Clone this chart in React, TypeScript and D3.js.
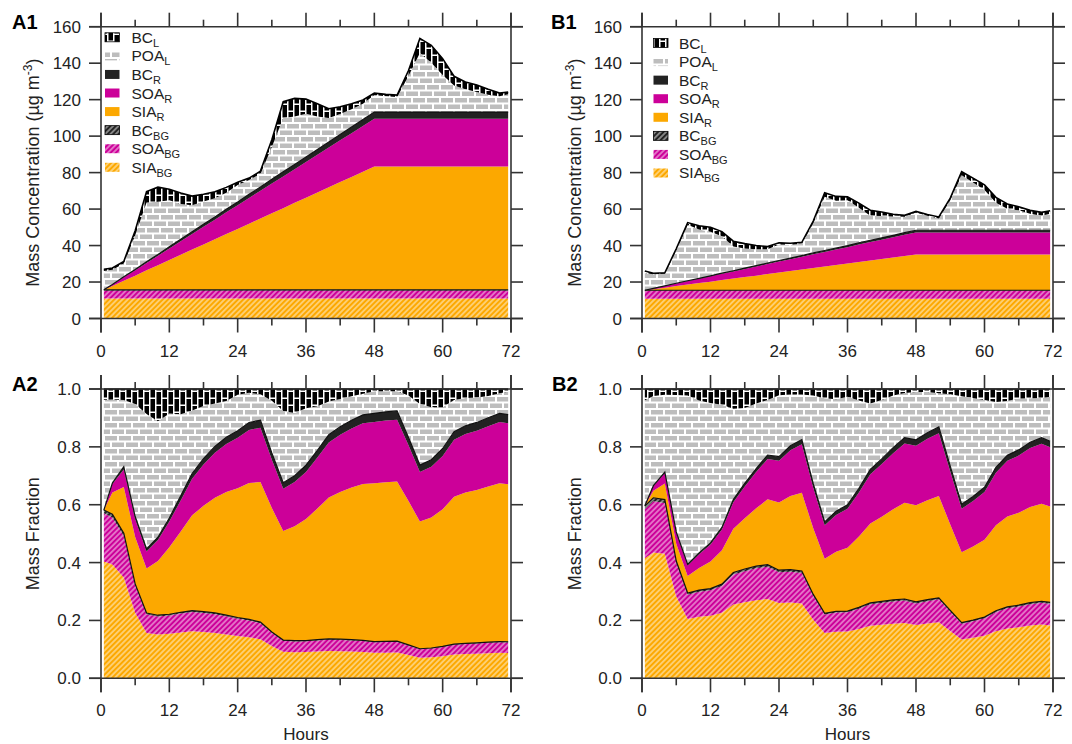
import React from "react";
import * as d3 from "d3";

// ---------------- DATA ----------------
const hours = [0.5, 2, 4, 6, 8, 10, 12, 14, 16, 18, 20, 22, 24, 26, 28, 30, 32, 34, 36, 38, 40, 42, 44, 46, 48, 50, 52, 54, 56, 58, 60, 62, 64, 66, 68, 70, 71.5];

// Case A (µg m-3)
const a1SiaBg = 10.9;
const a1SoaBg = 4.5;
const a1BcBg = 0.3;
const a1SiaR = [0, 2.1, 5.0, 7.8, 10.7, 13.5, 16.4, 19.2, 22.1, 24.9, 27.7, 30.6, 33.4, 36.3, 39.1, 42.0, 44.8, 47.7, 50.5, 53.4, 56.2, 59.1, 61.9, 64.8, 67.6, 67.6, 67.6, 67.6, 67.6, 67.6, 67.6, 67.6, 67.6, 67.6, 67.6, 67.6, 67.6];
const a1SoaR = [0, 0.8, 1.9, 3.0, 4.1, 5.2, 6.3, 7.4, 8.5, 9.7, 10.8, 11.9, 13.0, 14.1, 15.2, 16.3, 17.4, 18.5, 19.6, 20.7, 21.8, 22.9, 24.0, 25.1, 26.2, 26.2, 26.2, 26.2, 26.2, 26.2, 26.2, 26.2, 26.2, 26.2, 26.2, 26.2, 26.2];
const a1BcR = [0, 0.1, 0.3, 0.4, 0.6, 0.7, 0.9, 1.1, 1.2, 1.4, 1.5, 1.7, 1.8, 2.0, 2.1, 2.3, 2.5, 2.6, 2.8, 2.9, 3.1, 3.2, 3.4, 3.5, 3.7, 3.7, 3.7, 3.7, 3.7, 3.7, 3.7, 3.7, 3.7, 3.7, 3.7, 3.7, 3.7];
const a1PoaL = [10.3, 8.0, 7.2, 18.7, 32.5, 28.9, 25.6, 19.4, 14.6, 12.4, 10.3, 9.0, 9.3, 7.9, 7.2, 17.7, 29.5, 26.2, 23.7, 18.0, 13.2, 11.2, 9.7, 8.7, 9.4, 8.7, 8.3, 19.8, 32.4, 27.1, 20.3, 14.6, 12.5, 11.0, 9.5, 8.6, 9.8];
const a1BcL = [1.0, 1.0, 1.2, 2.5, 6.0, 8.0, 6.0, 6.0, 5.0, 4.0, 3.5, 3.0, 1.5, 1.0, 1.5, 4.0, 9.0, 10.0, 8.0, 7.0, 5.0, 4.0, 3.0, 2.0, 1.0, 1.0, 1.0, 3.0, 8.0, 9.5, 9.0, 5.0, 4.0, 3.8, 3.0, 1.8, 1.2];

// Case B (µg m-3)
const b1SiaBg = 10.8;
const b1SoaBg = 4.4;
const b1BcBg = 0.3;
const b1SiaR = [0, 0.6, 1.4, 2.3, 3.1, 3.9, 4.7, 5.6, 6.4, 7.2, 8.0, 8.9, 9.7, 10.5, 11.3, 12.2, 13.0, 13.8, 14.6, 15.5, 16.3, 17.1, 17.9, 18.8, 19.6, 19.6, 19.6, 19.6, 19.6, 19.6, 19.6, 19.6, 19.6, 19.6, 19.6, 19.6, 19.6];
const b1SoaR = [0, 0.4, 0.9, 1.4, 1.9, 2.4, 2.9, 3.4, 3.9, 4.5, 5.0, 5.5, 6.0, 6.5, 7.0, 7.5, 8.0, 8.5, 9.0, 9.6, 10.1, 10.6, 11.1, 11.6, 12.1, 12.1, 12.1, 12.1, 12.1, 12.1, 12.1, 12.1, 12.1, 12.1, 12.1, 12.1, 12.1];
const b1BcR = [0, 0.04, 0.09, 0.14, 0.19, 0.24, 0.29, 0.34, 0.39, 0.44, 0.49, 0.54, 0.59, 0.64, 0.69, 0.75, 0.8, 0.85, 0.9, 0.95, 1.0, 1.05, 1.1, 1.15, 1.2, 1.2, 1.2, 1.2, 1.2, 1.2, 1.2, 1.2, 1.2, 1.2, 1.2, 1.2, 1.2];
const b1PoaL = [9.5, 7.7, 6.7, 18.1, 30.7, 26.8, 24.2, 20.2, 13.3, 10.7, 9.0, 7.5, 8.8, 7.3, 6.5, 16.3, 29.5, 25.9, 24.9, 19.2, 13.5, 11.9, 10.3, 8.7, 9.7, 8.0, 6.5, 16.4, 30.1, 26.2, 22.1, 15.0, 11.8, 10.9, 9.0, 8.0, 9.1];
const b1BcL = [1.0, 0.6, 0.5, 0.8, 1.2, 2.0, 2.4, 2.6, 2.9, 2.7, 2.0, 1.5, 0.9, 0.8, 0.8, 1.2, 2.2, 2.4, 1.8, 2.5, 3.0, 2.2, 1.3, 0.8, 0.6, 0.6, 0.8, 1.2, 2.0, 2.4, 2.8, 3.0, 2.6, 2.0, 1.9, 1.8, 1.6];

const components = ["SIA_BG", "SOA_BG", "BC_BG", "SIA_R", "SOA_R", "BC_R", "POA_L", "BC_L"];
const legendMain = ["BC", "POA", "BC", "SOA", "SIA", "BC", "SOA", "SIA"];
const legendSub = ["L", "L", "R", "R", "R", "BG", "BG", "BG"];
const concTicks = [0, 20, 40, 60, 80, 100, 120, 140, 160];
const fracTicks = [0, 0.2, 0.4, 0.6, 0.8, 1.0];
const hourTicks = [0, 6, 12, 18, 24, 30, 36, 42, 48, 54, 60, 66, 72];
const hourLabels = [0, 12, 24, 36, 48, 60, 72];

// ---------------- STYLE ----------------
const ORANGE = "#fca800";
const MAGENTA = "#cc0099";
const DARK = "#222";
const GRAY = "#bdbdbd";
const AXIS = "#333";
const TXT = "#222";
const FONT = "'Liberation Sans', Arial, Helvetica, sans-serif";

const fills: Record<string, string> = {
  SIA_BG: "url(#hSIA)",
  SOA_BG: "url(#hSOA)",
  BC_BG: "url(#hBC)",
  SIA_R: ORANGE,
  SOA_R: MAGENTA,
  BC_R: DARK,
  POA_L: "url(#pPOA)",
  BC_L: "url(#pBCL)",
};

type Row = { [k: string]: number };

function makeRows(siaBg: number, soaBg: number, bcBg: number, siaR: number[], soaR: number[], bcR: number[], poaL: number[], bcL: number[]): Row[] {
  return hours.map((t, i) => ({
    t,
    SIA_BG: siaBg,
    SOA_BG: soaBg,
    BC_BG: bcBg,
    SIA_R: siaR[i],
    SOA_R: soaR[i],
    BC_R: bcR[i],
    POA_L: poaL[i],
    BC_L: bcL[i],
  }));
}

const rowsA = makeRows(a1SiaBg, a1SoaBg, a1BcBg, a1SiaR, a1SoaR, a1BcR, a1PoaL, a1BcL);
const rowsB = makeRows(b1SiaBg, b1SoaBg, b1BcBg, b1SiaR, b1SoaR, b1BcR, b1PoaL, b1BcL);

type PanelProps = {
  x0: number;
  x1: number;
  yT: number;
  yB: number;
  fraction: boolean;
  rows: Row[];
  label: string;
  labelX: number;
  labelY: number;
  titleX: number;
  legend?: { sx: number; tx: number; y0: number };
  showHours: boolean;
};

function Panel(p: PanelProps) {
  const x = d3.scaleLinear().domain([0, 72]).range([p.x0, p.x1]);
  const y = d3
    .scaleLinear()
    .domain(p.fraction ? [0, 1] : [0, 160])
    .range([p.yB, p.yT]);
  const stack = d3
    .stack<Row>()
    .keys(components)
    .order(d3.stackOrderNone)
    .offset(p.fraction ? d3.stackOffsetExpand : d3.stackOffsetNone);
  const series = stack(p.rows);
  const area = d3
    .area<any>()
    .x((d) => x(d.data.t))
    .y0((d) => y(d[0]))
    .y1((d) => y(d[1]));
  const line = d3
    .line<any>()
    .x((d) => x(d.data.t))
    .y((d) => y(d[1]));
  const yTicks = p.fraction ? fracTicks : concTicks;
  const fmt = p.fraction ? d3.format(".1f") : d3.format("d");
  const ext = 12;
  const extV = 14;
  const cy = (p.yT + p.yB) / 2;

  return (
    <g>
      {series.map((s) => (
        <path key={s.key} d={area(s) || ""} fill={fills[s.key]} stroke="none" />
      ))}
      {[2, 5].map((i) => (
        <path key={"l" + i} d={line(series[i]) || ""} fill="none" stroke="#111" strokeWidth={1.2} />
      ))}
      <path d={line(series[7]) || ""} fill="none" stroke="#000" strokeWidth={1.6} />

      {/* frame */}
      <g stroke={AXIS} strokeWidth={1.6}>
        <line x1={p.x0} x2={p.x0} y1={p.yT - extV} y2={p.yB + extV} />
        <line x1={p.x1} x2={p.x1} y1={p.yT - extV} y2={p.yB + extV} />
        <line x1={p.x0 - ext} x2={p.x1 + ext} y1={p.yT} y2={p.yT} />
        <line x1={p.x0 - ext} x2={p.x1 + ext} y1={p.yB} y2={p.yB} />
        {hourTicks.map((h) => {
          const len = h % 12 === 0 ? 14 : 7;
          return (
            <g key={"xt" + h}>
              <line x1={x(h)} x2={x(h)} y1={p.yB} y2={p.yB + len} />
              <line x1={x(h)} x2={x(h)} y1={p.yT} y2={p.yT - len} />
            </g>
          );
        })}
        {yTicks.map((v) => (
          <g key={"yt" + v}>
            <line x1={p.x0} x2={p.x0 - 12} y1={y(v)} y2={y(v)} />
            <line x1={p.x1} x2={p.x1 + 12} y1={y(v)} y2={y(v)} />
          </g>
        ))}
      </g>

      <g fill={TXT} fontSize={17} fontFamily={FONT}>
        {yTicks.map((v) => (
          <text key={"yl" + v} x={p.x0 - 20} y={y(v) + 6} textAnchor="end">
            {fmt(v)}
          </text>
        ))}
        {hourLabels.map((h) => (
          <text key={"xl" + h} x={x(h)} y={p.yB + 38} textAnchor="middle">
            {h}
          </text>
        ))}
        {p.showHours && (
          <text x={(p.x0 + p.x1) / 2} y={740} textAnchor="middle">
            Hours
          </text>
        )}
        <text transform={`translate(${p.titleX},${cy}) rotate(-90)`} textAnchor="middle" fontSize={18}>
          {p.fraction ? (
            "Mass Fraction"
          ) : (
            <>
              Mass Concentration (µg m
              <tspan dy={-7} fontSize={12}>
                -3
              </tspan>
              <tspan dy={7}>)</tspan>
            </>
          )}
        </text>
        <text x={p.labelX} y={p.labelY} fontWeight="bold" fontSize={20} fill="#000">
          {p.label}
        </text>
      </g>

      {p.legend && (
        <g fontFamily={FONT} fill={TXT}>
          {components
            .slice()
            .reverse()
            .map((k, i) => {
              const cyL = p.legend!.y0 + i * 18.57;
              return (
                <g key={"lg" + k}>
                  <rect x={p.legend!.sx} y={cyL - 4.5} width={14.5} height={9} fill={fills[k]} stroke={k === "BC_L" || k === "BC_BG" ? "#000" : "none"} strokeWidth={0.8} />
                  <text x={p.legend!.tx} y={cyL + 5.5} fontSize={15.5}>
                    {legendMain[i]}
                    <tspan fontSize={11} dy={4}>
                      {legendSub[i]}
                    </tspan>
                  </text>
                </g>
              );
            })}
        </g>
      )}
    </g>
  );
}

export default function App() {
  return (
    <svg width={1072} height={744} viewBox="0 0 1072 744" style={{ position: "absolute", left: 0, top: 0, background: "#fff" }}>
      <defs>
        <pattern id="pPOA" patternUnits="userSpaceOnUse" width={14} height={13}>
          <rect width={14} height={13} fill="#fff" />
          <rect x={0} y={0.5} width={12} height={4.5} fill={GRAY} />
          <rect x={7} y={7} width={12} height={4.5} fill={GRAY} />
          <rect x={-7} y={7} width={12} height={4.5} fill={GRAY} />
        </pattern>
        <pattern id="pBCL" patternUnits="userSpaceOnUse" width={12} height={14}>
          <rect width={12} height={14} fill="#fff" />
          <rect x={0.5} y={0} width={4.5} height={12.5} fill="#000" />
          <rect x={6.5} y={7} width={4.5} height={12.5} fill="#000" />
          <rect x={6.5} y={-7} width={4.5} height={12.5} fill="#000" />
        </pattern>
        <pattern id="hSIA" patternUnits="userSpaceOnUse" width={3.8} height={3.8} patternTransform="rotate(45)">
          <rect width={3.8} height={3.8} fill={ORANGE} />
          <line x1={1.9} x2={1.9} y1={0} y2={3.8} stroke="#fff" strokeWidth={1} strokeOpacity={0.85} />
        </pattern>
        <pattern id="hSOA" patternUnits="userSpaceOnUse" width={3.8} height={3.8} patternTransform="rotate(45)">
          <rect width={3.8} height={3.8} fill={MAGENTA} />
          <line x1={1.9} x2={1.9} y1={0} y2={3.8} stroke="#fff" strokeWidth={1} strokeOpacity={0.85} />
        </pattern>
        <pattern id="hBC" patternUnits="userSpaceOnUse" width={3.8} height={3.8} patternTransform="rotate(45)">
          <rect width={3.8} height={3.8} fill={DARK} />
          <line x1={1.9} x2={1.9} y1={0} y2={3.8} stroke="#fff" strokeWidth={1} strokeOpacity={0.85} />
        </pattern>
      </defs>
      <Panel x0={101} x1={511} yT={26.7} yB={318.5} fraction={false} rows={rowsA} label="A1" labelX={12} labelY={29} titleX={39} legend={{ sx: 105, tx: 131.5, y0: 37.3 }} showHours={false} />
      <Panel x0={642} x1={1053} yT={26.7} yB={318.5} fraction={false} rows={rowsB} label="B1" labelX={551} labelY={29} titleX={581} legend={{ sx: 653.5, tx: 679, y0: 43 }} showHours={false} />
      <Panel x0={101} x1={511} yT={389} yB={678.3} fraction={true} rows={rowsA} label="A2" labelX={12} labelY={391} titleX={39} showHours={true} />
      <Panel x0={642} x1={1053} yT={389} yB={678.3} fraction={true} rows={rowsB} label="B2" labelX={552} labelY={391} titleX={581} showHours={true} />
    </svg>
  );
}
